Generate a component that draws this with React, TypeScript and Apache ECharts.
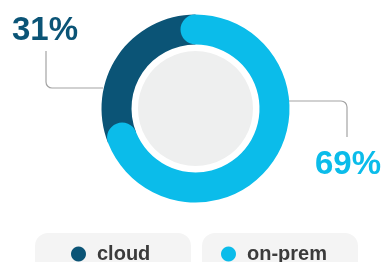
import React, { useEffect, useRef } from "react";
import * as echarts from "echarts";

const categories = ["cloud", "on-prem"];
const values = [31, 69];
const colors = ["#0b5476", "#0bbcea"];
const labels = ["31%", "69%"];

export default function App() {
  const ref = useRef<HTMLDivElement>(null);
  useEffect(() => {
    if (!ref.current) return;
    const chart = echarts.init(ref.current, undefined, { renderer: "svg" });
    const cx = 195.5;
    const cy = 108.5;
    const font = "'Liberation Sans', Arial, sans-serif";
    const lineStyle = { stroke: "#a3a3a3", lineWidth: 1.2, fill: null as any };
    const legendBoxes = [
      { x: 35, w: 156, dot: 78.5, tx: 97 },
      { x: 202, w: 156, dot: 228.5, tx: 247 },
    ];
    const graphic: any[] = [
      { type: "circle", shape: { cx, cy, r: 57.5 }, style: { fill: "#eeefef" }, z: 1 },
      // left leader
      { type: "line", shape: { x1: 46, y1: 51, x2: 46, y2: 82 }, style: lineStyle },
      { type: "arc", shape: { cx: 52, cy: 82, r: 6, startAngle: Math.PI / 2, endAngle: Math.PI, clockwise: true }, style: lineStyle },
      { type: "line", shape: { x1: 52, y1: 88, x2: 103, y2: 88 }, style: lineStyle },
      // right leader
      { type: "line", shape: { x1: 289, y1: 101, x2: 341, y2: 101 }, style: lineStyle },
      { type: "arc", shape: { cx: 341, cy: 107, r: 6, startAngle: -Math.PI / 2, endAngle: 0, clockwise: true }, style: lineStyle },
      { type: "line", shape: { x1: 347, y1: 107, x2: 347, y2: 137 }, style: lineStyle },
      {
        type: "text", x: 12, y: 28,
        style: { text: labels[0], fill: colors[0], font: `bold 33px ${font}`, textVerticalAlign: "middle", textAlign: "left" },
      },
      {
        type: "text", x: 315, y: 162.5,
        style: { text: labels[1], fill: colors[1], font: `bold 33px ${font}`, textVerticalAlign: "middle", textAlign: "left" },
      },
    ];
    categories.forEach((c, i) => {
      const b = legendBoxes[i];
      graphic.push(
        { type: "rect", shape: { x: b.x, y: 233, width: b.w, height: 50, r: 13 }, style: { fill: "#f4f4f4" } },
        { type: "circle", shape: { cx: b.dot, cy: 254, r: 7.5 }, style: { fill: colors[i] }, z: 2 },
        {
          type: "text", x: b.tx, y: 253, z: 2,
          style: { text: c, fill: "#3b3b3b", font: `bold 20px ${font}`, lineHeight: 17, textVerticalAlign: "middle", textAlign: "left" },
        }
      );
    });
    chart.setOption({
      animation: false,
      polar: { center: [cx, cy], radius: [64, 94] },
      angleAxis: { type: "value", max: 100, startAngle: 90, clockwise: true, show: false },
      radiusAxis: { type: "category", data: ["share"], show: false },
      graphic,
      series: [
        {
          type: "bar", coordinateSystem: "polar", name: categories[1], stack: "s",
          data: [values[1]], roundCap: true, barCategoryGap: "0%", z: 4,
          itemStyle: { color: colors[1] },
        },
        {
          type: "bar", coordinateSystem: "polar", name: categories[0], stack: "s",
          data: [values[0]], barCategoryGap: "0%", z: 3,
          itemStyle: { color: colors[0] },
        },
      ],
    });
    return () => chart.dispose();
  }, []);
  return <div ref={ref} style={{ position: "fixed", left: 0, top: 0, width: 383, height: 262 }} />;
}
